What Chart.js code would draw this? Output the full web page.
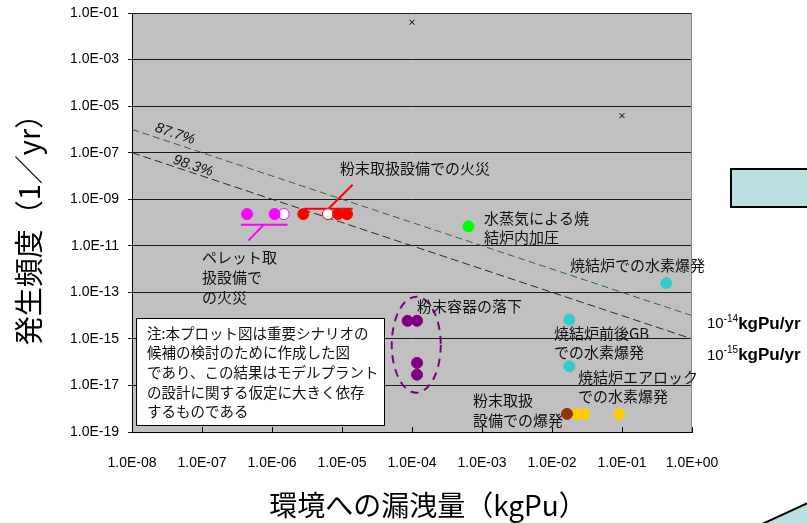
<!DOCTYPE html>
<html>
<head>
<meta charset="utf-8">
<script src="https://cdn.jsdelivr.net/npm/chart.js@4.4.1/dist/chart.umd.min.js"></script>
<style>
  html, body { margin: 0; padding: 0; background: #ffffff; }
  canvas { display: block; }
</style>
</head>
<body>
<canvas id="riskChart" width="807" height="523"></canvas>
<script>
// ---- axis ticks ----
const xTicks = [1e-8, 1e-7, 1e-6, 1e-5, 1e-4, 1e-3, 1e-2, 1e-1, 1];
const xTickLabels = ['1.0E-08', '1.0E-07', '1.0E-06', '1.0E-05', '1.0E-04', '1.0E-03', '1.0E-02', '1.0E-01', '1.0E+00'];
const yTicks = [1e-1, 1e-3, 1e-5, 1e-7, 1e-9, 1e-11, 1e-13, 1e-15, 1e-17, 1e-19];
const yTickLabels = ['1.0E-01', '1.0E-03', '1.0E-05', '1.0E-07', '1.0E-09', '1.0E-11', '1.0E-13', '1.0E-15', '1.0E-17', '1.0E-19'];

// ---- scenarios: [release to environment (kgPu), frequency (1/yr)] ----
const pelletFire = [[4.4e-7, 2.3e-10], [1.09e-6, 2.3e-10]];
const pelletFireOpen = [[1.47e-6, 2.3e-10]];
const powderFire = [[2.8e-6, 2.3e-10], [8.8e-6, 2.3e-10], [1.18e-5, 2.3e-10]];
const powderFireOpen = [[6.3e-6, 2.3e-10]];
const steamPressure = [[6.4e-4, 6.8e-11]];
const sinterHydrogen = [[0.43, 2.5e-13], [0.0177, 6.7e-15], [0.0177, 6.6e-17]];
const containerDrop = [[8.65e-5, 6.0e-15], [1.18e-4, 6.0e-15], [1.18e-4, 9.3e-17], [1.18e-4, 2.9e-17]];
const powderExplosion = [[0.0164, 6.0e-19]];
const airlockHydrogen = [[0.0222, 6.0e-19], [0.0289, 6.0e-19], [0.0914, 6.0e-19]];
const outliers = [[1e-4, 4.0e-2], [0.1, 3.9e-6]];

// constant-risk reference lines (release x frequency)
const risk14 = [[1e-8, 1e-6], [1, 1e-14]];
const risk15 = [[1e-8, 1e-7], [1, 1e-15]];

// callout leader lines
const powderFireLeaderH = [[2.89e-6, 3.9e-10], [1.42e-5, 3.9e-10]];
const powderFireLeaderD = [[6.4e-6, 3.9e-10], [1.42e-5, 4.2e-9]];
const pelletFireLeaderH = [[3.6e-7, 8.0e-11], [1.67e-6, 8.0e-11]];
const pelletFireLeaderD = [[7.6e-7, 8.0e-11], [4.6e-7, 1.66e-11]];

// dashed ring grouping the container-drop cases (centre, half-size in decades)
const dropRing = { x: 1.15e-4, y: 5.6e-16, rx: 0.35, ry: 2.06 };

const pts = arr => arr.map(([x, y]) => ({ x, y }));

const JP = '"Noto Sans CJK JP", "Noto Sans CJK SC", sans-serif';
const LAT = '"Liberation Sans", Arial, sans-serif';

// text placed relative to the plot area's top-left corner
const callouts = [
  { lines: ['粉末取扱設備での火災'], dx: 208, dy: 155, lh: 19 },
  { lines: ['水蒸気による焼', '結炉内加圧'], dx: 352, dy: 205, lh: 19 },
  { lines: ['ペレット取', '扱設備で', 'の火災'], dx: 70, dy: 244, lh: 20 },
  { lines: ['焼結炉での水素爆発'], dx: 438, dy: 252, lh: 19 },
  { lines: ['粉末容器の落下'], dx: 285, dy: 293, lh: 19 },
  { lines: ['焼結炉前後GB', 'での水素爆発'], dx: 422, dy: 320, lh: 19.5 },
  { lines: ['焼結炉エアロック', 'での水素爆発'], dx: 446, dy: 364, lh: 19 },
  { lines: ['粉末取扱', '設備での爆発'], dx: 341, dy: 387, lh: 20 }
];
const noteLines = ['注:本プロット図は重要シナリオの', '候補の検討のために作成した図', 'であり、この結果はモデルプラント', 'の設計に関する仮定に大きく依存', 'するものである'];
const xTitle = '環境への漏洩量（kgPu）';
const yTitle = '発生頻度（1／yr）';

const decor = {
  id: 'decor',
  beforeDraw(chart) {
    const { ctx, chartArea: a } = chart;
    ctx.save();
    ctx.fillStyle = '#c0c0c0';
    ctx.fillRect(a.left, a.top, a.right - a.left, a.bottom - a.top);
    ctx.restore();
  },
  afterDatasetsDraw(chart) {
    const { ctx, chartArea: a, scales: { x, y } } = chart;
    const X = v => x.getPixelForValue(v);
    const Y = v => y.getPixelForValue(v);
    ctx.save();

    // inward tick marks on the release axis
    ctx.strokeStyle = '#000';
    ctx.lineWidth = 1;
    ctx.beginPath();
    xTicks.forEach(v => {
      const px = Math.round(X(v)) + 0.5;
      ctx.moveTo(px, a.bottom);
      ctx.lineTo(px, a.bottom - 5);
    });
    ctx.stroke();

    // right frame edge
    ctx.strokeStyle = '#8a8a8a';
    ctx.beginPath();
    ctx.moveTo(a.right - 0.5, a.top);
    ctx.lineTo(a.right - 0.5, a.bottom);
    ctx.stroke();

    // dashed ring around the container-drop cases
    const cx = X(dropRing.x), cy = Y(dropRing.y);
    const rx = X(dropRing.x * Math.pow(10, dropRing.rx)) - cx;
    const ry = cy - Y(dropRing.y * Math.pow(10, dropRing.ry));
    ctx.strokeStyle = '#800080';
    ctx.lineWidth = 2;
    ctx.setLineDash([8, 6]);
    ctx.beginPath();
    ctx.ellipse(cx, cy, rx, ry, 0, 0, Math.PI * 2);
    ctx.stroke();
    ctx.setLineDash([]);

    // percentages along the risk lines
    const ang = Math.atan2(Y(risk14[1][1]) - Y(risk14[0][1]), X(risk14[1][0]) - X(risk14[0][0]));
    ctx.fillStyle = '#111';
    ctx.font = 'italic 14.5px ' + LAT;
    ctx.textAlign = 'center';
    ctx.textBaseline = 'middle';
    [['87.7%', 43, 121], ['98.3%', 61, 153]].forEach(([t, dx, dy]) => {
      ctx.save();
      ctx.translate(a.left + dx, a.top + dy);
      ctx.rotate(ang);
      ctx.fillText(t, 0, 0);
      ctx.restore();
    });

    // callout texts
    ctx.textAlign = 'left';
    ctx.font = '15px ' + JP;
    callouts.forEach(c => {
      c.lines.forEach((t, i) => ctx.fillText(t, a.left + c.dx, a.top + c.dy + i * c.lh));
    });

    // note box
    const bx = a.left + 4, by = a.top + 305, bw = 248, bh = 107;
    ctx.fillStyle = '#ffffff';
    ctx.fillRect(bx, by, bw, bh);
    ctx.strokeStyle = '#000';
    ctx.lineWidth = 1;
    ctx.strokeRect(bx + 0.5, by + 0.5, bw, bh);
    ctx.fillStyle = '#111';
    ctx.font = '14.5px ' + JP;
    noteLines.forEach((t, i) => ctx.fillText(t, a.left + 15, a.top + 320 + i * 19.7));

    // risk level labels to the right of the plot
    [['-14', 311], ['-15', 342.5]].forEach(([e, dy]) => {
      let px = a.left + 575;
      const py = a.top + dy;
      ctx.fillStyle = '#000';
      ctx.font = '15px ' + LAT;
      ctx.fillText('10', px, py);
      px += ctx.measureText('10').width;
      ctx.font = '10px ' + LAT;
      ctx.fillText(e, px, py - 5);
      px += ctx.measureText(e).width;
      ctx.font = 'bold 17px ' + LAT;
      ctx.fillText('kgPu/yr', px, py);
    });

    // release axis title
    ctx.fillStyle = '#000';
    ctx.textAlign = 'center';
    ctx.font = '28px ' + JP;
    ctx.fillText(xTitle, (a.left + a.right) / 2 + 16, 505);

    // light blue slide shapes at the right edge
    ctx.fillStyle = '#bcdfe4';
    ctx.strokeStyle = '#000';
    ctx.lineWidth = 2;
    ctx.fillRect(731, 169, 90, 38);
    ctx.strokeRect(731, 169, 90, 38);
    ctx.beginPath();
    ctx.moveTo(760, 525);
    ctx.lineTo(812, 501);
    ctx.lineTo(812, 530);
    ctx.closePath();
    ctx.fill();
    ctx.stroke();

    ctx.restore();
  }
};

const dot = (data, color, extra) => Object.assign({
  data: pts(data), pointRadius: 5.5, pointBackgroundColor: color, pointBorderColor: color,
  pointBorderWidth: 1, showLine: false, order: 1
}, extra || {});
const line = (data, color, width, dash) => ({
  data: pts(data), showLine: true, pointRadius: 0, borderColor: color, borderWidth: width,
  borderDash: dash || [], fill: false, order: 3
});

new Chart(document.getElementById('riskChart'), {
  type: 'scatter',
  data: {
    datasets: [
      line(risk14, '#2e6a2e', 1, [7, 4]),
      line(risk15, '#2a2a2a', 1, [8, 4]),
      line(powderFireLeaderH, '#ff0000', 2),
      line(powderFireLeaderD, '#ff0000', 2),
      line(pelletFireLeaderH, '#ff00ff', 2),
      line(pelletFireLeaderD, '#ff00ff', 2),
      dot(pelletFire, '#ff00ff'),
      dot(pelletFireOpen, '#ffffff', { pointBorderColor: '#ff00ff' }),
      dot(powderFire, '#ff0000'),
      dot(powderFireOpen, '#ffffff', { pointBorderColor: '#ff0000' }),
      dot(steamPressure, '#00ff00'),
      dot(sinterHydrogen, '#33cccc'),
      dot(containerDrop, '#800080'),
      dot(powderExplosion, '#993300'),
      dot(airlockHydrogen, '#ffcc00'),
      dot(outliers, '#000000', { pointStyle: 'crossRot', pointRadius: 3.5, pointBorderWidth: 1 })
    ]
  },
  options: {
    responsive: false,
    animation: false,
    devicePixelRatio: 1,
    layout: { padding: { left: 0, top: 13, right: 115, bottom: 0 } },
    plugins: { legend: { display: false }, tooltip: { enabled: false } },
    scales: {
      x: {
        type: 'logarithmic', min: 1e-8, max: 1,
        afterBuildTicks: s => { s.ticks = xTicks.map(v => ({ value: v })); },
        ticks: { callback: (v, i) => xTickLabels[i], font: { family: LAT, size: 14 }, color: '#000', padding: 15, autoSkip: false, maxRotation: 0 },
        grid: { display: false },
        border: { display: true, color: '#000', width: 1 },
        afterFit: s => { s.height = 91; s.paddingLeft = 0; s.paddingRight = 0; }
      },
      y: {
        type: 'logarithmic', min: 1e-19, max: 1e-1,
        afterBuildTicks: s => { s.ticks = yTicks.map(v => ({ value: v })); },
        ticks: { callback: (v, i) => yTickLabels[i], font: { family: LAT, size: 14 }, color: '#000', padding: 9, autoSkip: false },
        grid: { color: '#1a1a1a', lineWidth: 1, tickLength: 4, drawTicks: true },
        border: { display: true, color: '#000', width: 1 },
        title: { display: true, text: yTitle, font: { family: JP, size: 29 }, color: '#000', padding: { top: 12, bottom: 0 } },
        afterFit: s => { s.width = 132; s.paddingTop = 0; s.paddingBottom = 0; }
      }
    }
  },
  plugins: [decor]
});
</script>
</body>
</html>
